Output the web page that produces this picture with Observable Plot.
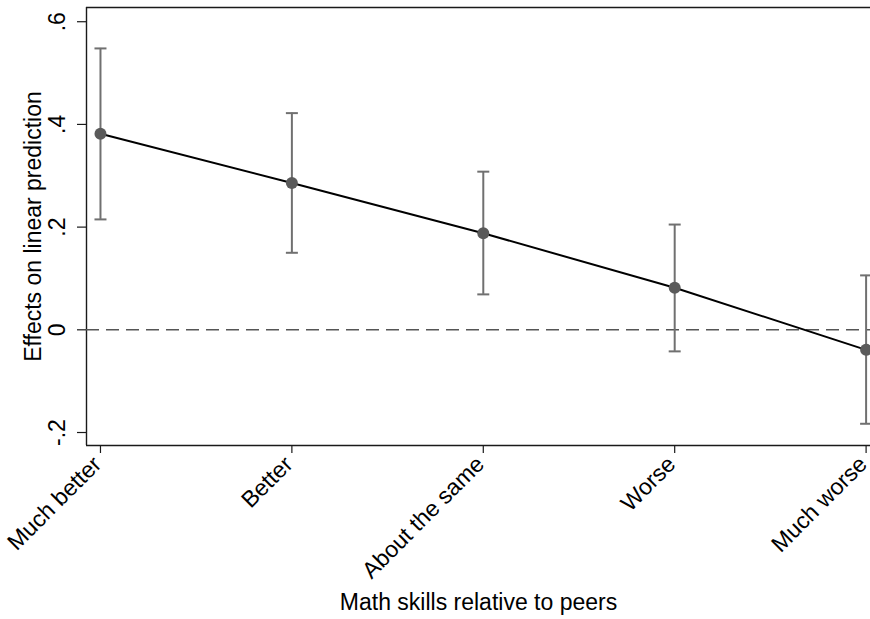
<!DOCTYPE html>
<html>
<head>
<meta charset="utf-8">
<script src="https://cdn.jsdelivr.net/npm/d3@7"></script>
<script src="https://cdn.jsdelivr.net/npm/@observablehq/plot@0.6"></script>
<style>
  html, body { margin: 0; padding: 0; background: #fff; }
  #chart svg { display: block; }
</style>
</head>
<body>
<div id="chart"></div>
<script>
// Predictive margins by self-rated math skills, with 95% CIs
const categories = ["Much better", "Better", "About the same", "Worse", "Much worse"];
const estimates = [0.382, 0.286, 0.188, 0.082, -0.039];
const lower = [0.215, 0.150, 0.069, -0.042, -0.183];
const upper = [0.548, 0.422, 0.308, 0.205, 0.106];
const yTicks = [-0.2, 0, 0.2, 0.4, 0.6];

const rows = categories.map((c, k) => ({
  pos: k + 1, label: c, est: estimates[k], lo: lower[k], hi: upper[k]
}));

const xDomain = [0.927, 5.023];
const yDomain = [-0.2253, 0.6277];

// Stata-style number labels: ".4", "-.2", "0"
const fmt = d => d === 0 ? "0" : String(+d.toFixed(1)).replace("0.", ".");

// horizontal cap for the error bars
const capSymbol = {
  draw(ctx, size) {
    const r = Math.sqrt(size / Math.PI);
    ctx.moveTo(-r, 0);
    ctx.lineTo(r, 0);
  }
};

const font = "'Liberation Sans', Arial, Helvetica, sans-serif";
const fs = 23;
const frameColor = "#1a1a1a";
const barColor = "#707070";
const dotColor = "#5a5a5a";

const chart = Plot.plot({
  width: 870,
  height: 619,
  marginLeft: 86,
  marginRight: 0,
  marginTop: 7,
  marginBottom: 174,
  style: { fontFamily: font, fontSize: fs + "px", color: "#000", background: "#fff", overflow: "visible" },
  x: { type: "linear", domain: xDomain },
  y: { domain: yDomain },
  marks: [
    // plot region border (left, top, bottom)
    Plot.ruleX([xDomain[0]], { stroke: frameColor, strokeWidth: 1.4 }),
    Plot.ruleY([yDomain[1], yDomain[0]], { stroke: frameColor, strokeWidth: 1.4 }),

    // reference line at zero
    Plot.ruleY([0], { stroke: "#555", strokeWidth: 1.6, strokeDasharray: "13,7" }),

    // confidence intervals
    Plot.ruleX(rows, { x: "pos", y1: "lo", y2: "hi", stroke: barColor, strokeWidth: 2 }),
    Plot.dot(rows, { x: "pos", y: "lo", symbol: capSymbol, r: 6, stroke: barColor, strokeWidth: 2, fill: "none" }),
    Plot.dot(rows, { x: "pos", y: "hi", symbol: capSymbol, r: 6, stroke: barColor, strokeWidth: 2, fill: "none" }),

    // connected point estimates
    Plot.line(rows, { x: "pos", y: "est", stroke: "#000", strokeWidth: 2 }),
    Plot.dot(rows, { x: "pos", y: "est", r: 6, fill: dotColor, stroke: "none" }),

    // y axis: ticks plus rotated labels
    Plot.axisY({ ticks: yTicks, tickSize: 9, tickFormat: () => "", label: null, stroke: frameColor, strokeWidth: 1.2 }),
    Plot.text(yTicks, {
      y: d => d, text: fmt, frameAnchor: "left", dx: -29, rotate: -90,
      textAnchor: "middle", lineAnchor: "middle", fontSize: fs, fill: "#000"
    }),
    Plot.text(["Effects on linear prediction"], {
      frameAnchor: "left", dx: -53, rotate: -90, textAnchor: "middle",
      lineAnchor: "middle", fontSize: fs, fill: "#000"
    }),

    // x axis: tick marks, then category labels at 45 degrees
    Plot.axisX({
      ticks: rows.map(d => d.pos), tickFormat: () => "", tickSize: 8, label: null,
      stroke: frameColor, strokeWidth: 1.2
    }),
    Plot.axisX({
      ticks: rows.map(d => d.pos), tickFormat: p => categories[p - 1],
      tickRotate: -45, tickSize: 0, tickPadding: 15, fontSize: fs, label: null,
      fill: "#000", dx: -3
    }),
    Plot.text(["Math skills relative to peers"], {
      frameAnchor: "bottom", dy: 157, textAnchor: "middle",
      lineAnchor: "middle", fontSize: fs, fill: "#000"
    })
  ]
});

document.getElementById("chart").appendChild(chart);
</script>
</body>
</html>
